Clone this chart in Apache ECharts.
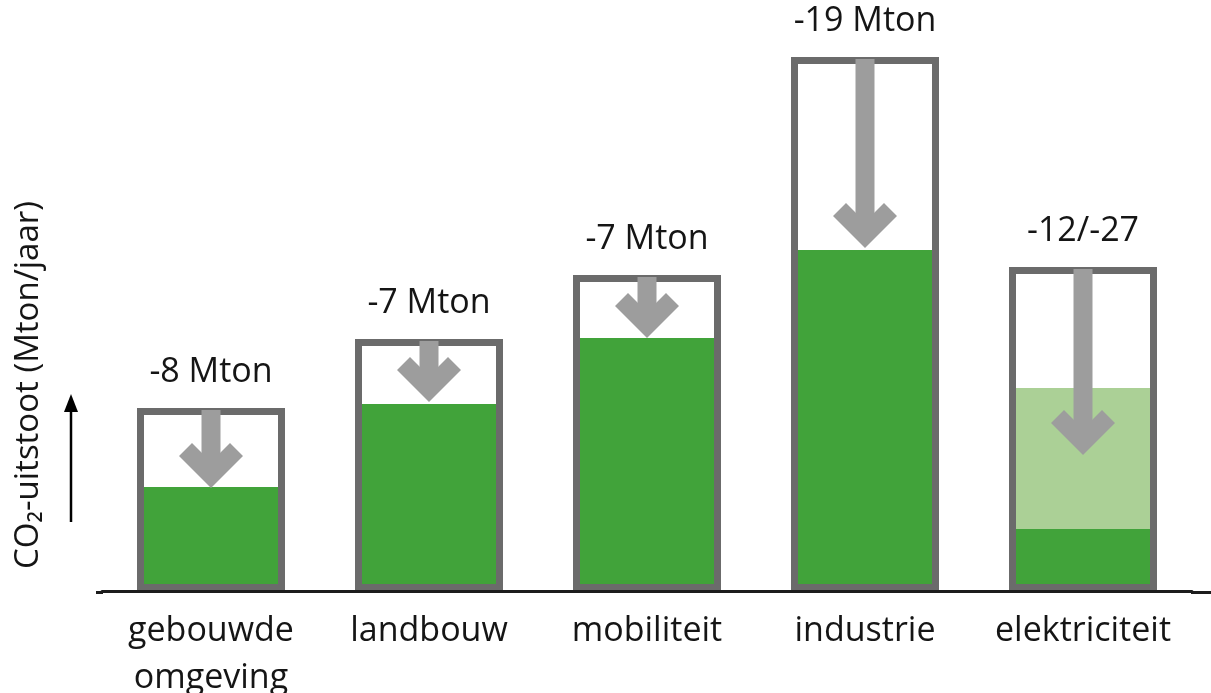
<!DOCTYPE html>
<html>
<head>
<meta charset="utf-8">
<script src="https://cdn.jsdelivr.net/npm/echarts@6/dist/echarts.min.js"></script>
<style>
  html, body { margin: 0; padding: 0; background: #fff; }
  #chart { width: 1211px; height: 693px; }
</style>
</head>
<body>
<div id="chart"></div>
<script>
// sectoren en uitstoot (Mton/jaar)
const categories = ['gebouwde\nomgeving', 'landbouw', 'mobiliteit', 'industrie', 'elektriciteit'];
const totals = [18.3, 25.2, 31.6, 53.4, 32.4];
const remaining = [10.4, 18.7, 25.3, 34.1, 6.2];
const remainingLight = [null, null, null, null, 20.3];
const arrowTips = [10.3, 18.9, 25.3, 34.3, 13.6];
const reductionLabels = ['-8 Mton', '-7 Mton', '-7 Mton', '-19 Mton', '-12/-27'];

const FONT = '"Open Sans", "DejaVu Sans", sans-serif';
const BAR_W = 148;

const chart = echarts.init(document.getElementById('chart'));

// pijl van bovenkant balk naar restwaarde
function renderArrow(params, api) {
    const top = api.coord([api.value(0), api.value(1)]);
    const tip = api.coord([api.value(0), api.value(2)]);
    const cx = top[0];
    const ty = tip[1];
    const w = 32, a = 13, shaft = 19;
    const style = { fill: '#9d9d9d' };
    return {
        type: 'group',
        children: [
            {
                type: 'rect',
                shape: { x: cx - shaft / 2, y: top[1] + 2, width: shaft, height: ty - 2 * a - top[1] + 2 },
                style: style
            },
            {
                type: 'polygon',
                shape: {
                    points: [
                        [cx, ty],
                        [cx - w, ty - w],
                        [cx - w + a, ty - w - a],
                        [cx, ty - 2 * a],
                        [cx + w - a, ty - w - a],
                        [cx + w, ty - w]
                    ]
                },
                style: style
            }
        ]
    };
}

const option = {
    animation: false,
    backgroundColor: '#ffffff',
    grid: { left: 102, right: 19, top: 1, bottom: 102, outerBoundsMode: 'none', containLabel: false },
    xAxis: {
        type: 'category',
        data: categories,
        z: 5,
        axisTick: { show: false },
        axisLine: { lineStyle: { color: '#1c1c1c', width: 3 } },
        axisLabel: {
            fontFamily: FONT,
            fontSize: 34,
            color: '#151515',
            lineHeight: 47,
            margin: 17,
            interval: 0
        }
    },
    yAxis: {
        type: 'value',
        min: 0,
        max: 59,
        show: false
    },
    series: [
        {
            name: 'rest (licht)',
            type: 'bar',
            barWidth: BAR_W,
            barGap: '-100%',
            data: remainingLight,
            itemStyle: { color: '#abd096' }
        },
        {
            name: 'rest',
            type: 'bar',
            barWidth: BAR_W,
            barGap: '-100%',
            data: remaining,
            itemStyle: { color: '#41a33a' }
        },
        {
            name: 'totaal',
            type: 'bar',
            barWidth: BAR_W,
            barGap: '-100%',
            data: totals,
            itemStyle: { color: 'rgba(0,0,0,0)', borderColor: '#6b6b6b', borderWidth: 7 },
            label: {
                show: true,
                position: 'top',
                distance: 19,
                fontFamily: FONT,
                fontSize: 34,
                color: '#151515',
                formatter: p => reductionLabels[p.dataIndex]
            }
        },
        {
            name: 'reductie',
            type: 'custom',
            z: 4,
            renderItem: renderArrow,
            data: categories.map((c, i) => [i, totals[i], arrowTips[i]])
        }
    ],
    graphic: [
        {
            type: 'text',
            x: 29,
            y: 385,
            rotation: Math.PI / 2,
            style: {
                text: 'CO₂-uitstoot (Mton/jaar)',
                fontFamily: FONT,
                fontSize: 33,
                fill: '#151515',
                align: 'center',
                verticalAlign: 'middle'
            }
        },
        {
            type: 'line',
            shape: { x1: 71, y1: 522, x2: 71, y2: 408 },
            style: { stroke: '#000', lineWidth: 2.5 }
        },
        {
            type: 'polygon',
            shape: { points: [[71, 394], [64, 412], [78, 412]] },
            style: { fill: '#000' }
        },
        {
            type: 'line',
            shape: { x1: 96, y1: 592.5, x2: 103, y2: 592.5 },
            style: { stroke: '#1c1c1c', lineWidth: 3 }
        },
        {
            type: 'line',
            shape: { x1: 1191, y1: 592.5, x2: 1211, y2: 592.5 },
            style: { stroke: '#1c1c1c', lineWidth: 3 }
        }
    ]
};

chart.setOption(option);

window.addEventListener('resize', function () {
    chart.resize();
});
</script>
</body>
</html>
